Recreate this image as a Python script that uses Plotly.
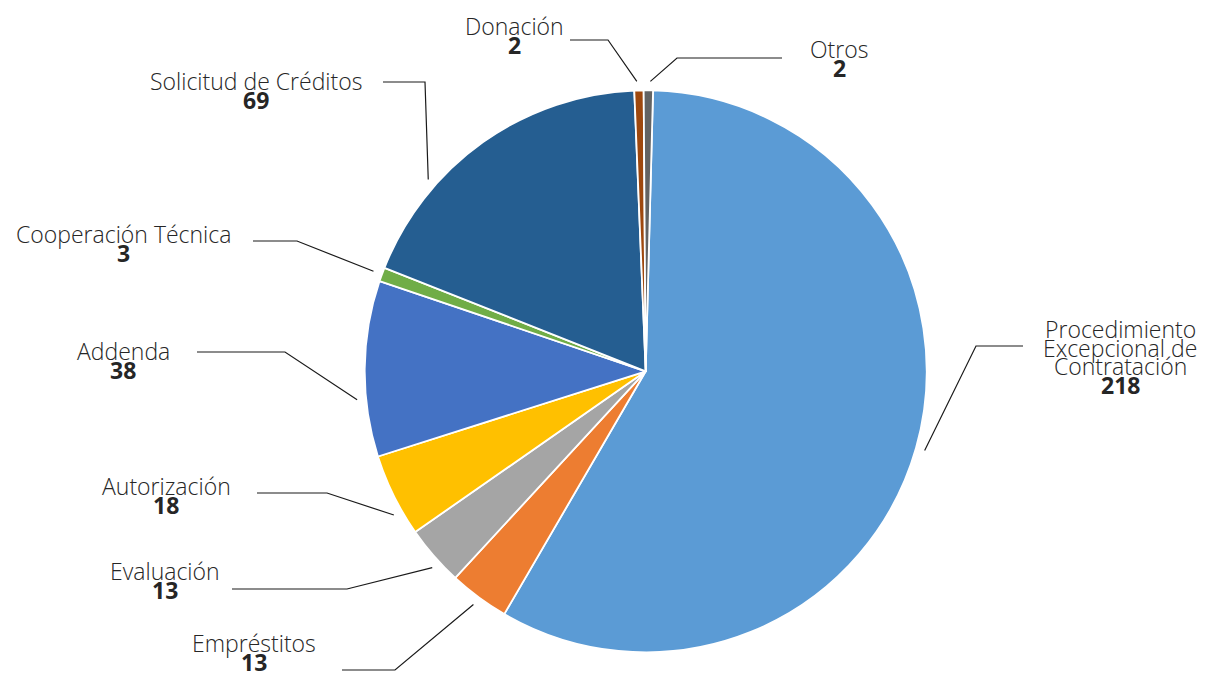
import math

import plotly.graph_objects as go

# Data
categories = [
    "Procedimiento Excepcional de Contratación",
    "Empréstitos",
    "Evaluación",
    "Autorización",
    "Addenda",
    "Cooperación Técnica",
    "Solicitud de Créditos",
    "Donación",
    "Otros",
]
counts = [218, 13, 13, 18, 38, 3, 69, 2, 2]
colors = [
    "#5B9BD5", "#ED7D31", "#A5A5A5", "#FFC000", "#4472C4",
    "#70AD47", "#255E91", "#9E480E", "#636363",
]

# label layout (screen pixels): text lines, text centre x, first line y,
# elbow x, horizontal line y, line end x, anchor fraction inside the slice
label_layout = {
    "Procedimiento Excepcional de Contratación": (
        ["Procedimiento", "Excepcional de", "Contratación"], 1120, 329, 976, 346, 1023, 0.5),
    "Empréstitos": (["Empréstitos"], 254, 643, 395, 670, 342, 0.5),
    "Evaluación": (["Evaluación"], 165, 571, 347, 589, 232, 0.38),
    "Autorización": (["Autorización"], 166, 486, 327, 493, 257, 0.3),
    "Addenda": (["Addenda"], 123, 351, 285, 352, 197, 0.33),
    "Cooperación Técnica": (["Cooperación Técnica"], 123, 234, 297, 241, 253, 0.5),
    "Solicitud de Créditos": (["Solicitud de Créditos"], 256, 81, 425, 82, 383, 0.3),
    "Donación": (["Donación"], 514, 26, 608, 40, 570, 0.3),
    "Otros": (["Otros"], 839, 49, 677, 58, 782, 0.7),
}

# the page body keeps its default 8px margin, so the figure is drawn
# 8px in from the window corner
OFF = 8
W, H = 1206 - 2 * OFF, 681 - 2 * OFF
ROTATION = 1.5
TEXT_COLOR = "#262626"
FONT = "Open Sans"
LINE_H = 18.7

# pie placement in screen pixels
cx, cy, r = 645.7, 371.3, 281.0


def px(x):
    return (x - OFF) / W


def py(y):
    return 1 - (y - OFF) / H


dom_x = [px(cx - r), px(cx + r)]
dom_y = [py(cy + r), py(cy - r)]

fig = go.Figure()
fig.add_trace(
    go.Pie(
        labels=categories,
        values=counts,
        sort=False,
        direction="clockwise",
        rotation=ROTATION,
        marker=dict(colors=colors, line=dict(color="white", width=1.8)),
        textinfo="none",
        hoverinfo="label+value",
        domain=dict(x=dom_x, y=dom_y),
        showlegend=False,
    )
)

total = sum(counts)
cum = 0
annotations = []
shapes = []
for cat, v in zip(categories, counts):
    lines, tx, ty, ex, ey, endx, frac = label_layout[cat]
    ang = math.radians(ROTATION + 360 * (cum + frac * v) / total)
    cum += v
    sx = cx + r * 1.032 * math.sin(ang)
    sy = cy - r * 1.032 * math.cos(ang)
    shapes.append(
        dict(
            type="path",
            xref="paper",
            yref="paper",
            path=f"M {px(sx)},{py(sy)} L {px(ex)},{py(ey)} L {px(endx)},{py(ey)}",
            line=dict(color="#1a1a1a", width=1.2),
        )
    )
    for i, t in enumerate(lines + [f"<b>{v}</b>"]):
        annotations.append(
            dict(
                x=px(tx),
                y=py(ty + i * LINE_H),
                xref="paper",
                yref="paper",
                text=t,
                showarrow=False,
                xanchor="center",
                yanchor="middle",
                font=dict(family=FONT, size=23, color=TEXT_COLOR, weight=300),
            )
        )

fig.update_layout(
    width=W,
    height=H,
    margin=dict(l=0, r=0, t=0, b=0),
    paper_bgcolor="white",
    plot_bgcolor="white",
    annotations=annotations,
    shapes=shapes,
)

fig.write_html("out.html")
